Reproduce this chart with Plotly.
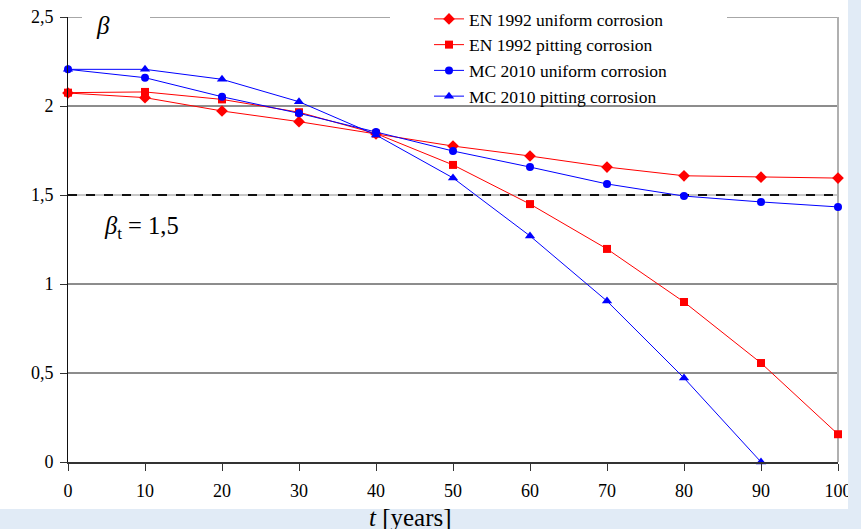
import plotly.graph_objects as go

years = [0, 10, 20, 30, 40, 50, 60, 70, 80, 90, 100]
en_uniform = [2.073, 2.047, 1.972, 1.912, 1.843, 1.775, 1.719, 1.657, 1.608, 1.600, 1.595]
en_pitting = [2.075, 2.079, 2.037, 1.965, 1.845, 1.669, 1.449, 1.197, 0.899, 0.556, 0.156]
mc_uniform = [2.206, 2.159, 2.052, 1.959, 1.854, 1.747, 1.657, 1.562, 1.494, 1.461, 1.433]
mc_years_pit = [0, 10, 20, 30, 40, 50, 60, 70, 80, 90]
mc_pitting = [2.206, 2.206, 2.150, 2.024, 1.837, 1.596, 1.270, 0.904, 0.472, 0.0]

y_ticks = [0, 0.5, 1, 1.5, 2, 2.5]
y_ticktext = ["0", "0,5", "1", "1,5", "2", "2,5"]
x_ticks = [0, 10, 20, 30, 40, 50, 60, 70, 80, 90, 100]
beta_target = 1.5

RED = "#ff0000"
BLUE = "#0000ff"
FONT = "'Liberation Serif', Tinos, 'Times New Roman', 'DejaVu Serif', serif"

fig = go.Figure()
fig.add_trace(go.Scatter(x=years, y=en_uniform, name="EN 1992 uniform corrosion",
                         mode="lines+markers", line=dict(color=RED, width=1),
                         marker=dict(symbol="diamond", size=9, color=RED), cliponaxis=False))
fig.add_trace(go.Scatter(x=years, y=en_pitting, name="EN 1992 pitting corrosion",
                         mode="lines+markers", line=dict(color=RED, width=1),
                         marker=dict(symbol="square", size=8, color=RED), cliponaxis=False))
fig.add_trace(go.Scatter(x=years, y=mc_uniform, name="MC 2010 uniform corrosion",
                         mode="lines+markers", line=dict(color=BLUE, width=1),
                         marker=dict(symbol="circle", size=8, color=BLUE), cliponaxis=False))
fig.add_trace(go.Scatter(x=mc_years_pit, y=mc_pitting, name="MC 2010 pitting corrosion",
                         mode="lines+markers", line=dict(color=BLUE, width=1),
                         marker=dict(symbol="triangle-up", size=9, color=BLUE), cliponaxis=False))

shapes = []
# page background: light blue bands right and bottom
shapes.append(dict(type="rect", xref="paper", yref="paper", x0=(848 - 68) / 770, x1=(870 - 68) / 770,
                   y0=-0.3, y1=1.2, fillcolor="#e1ebf6", line=dict(width=0), layer="above"))
shapes.append(dict(type="rect", xref="paper", yref="paper", x0=-0.2, x1=(848 - 68) / 770,
                   y0=(462 - 540) / 445, y1=(462 - 509) / 445, fillcolor="#e1ebf6",
                   line=dict(width=0), layer="below"))
# gridlines
for v in [0.5, 1, 2]:
    shapes.append(dict(type="line", xref="paper", yref="y", x0=0, x1=1, y0=v, y1=v,
                       line=dict(color="#1a1a1a", width=1), layer="below"))
shapes.append(dict(type="line", xref="paper", yref="y", x0=0, x1=1, y0=beta_target, y1=beta_target,
                   line=dict(color="#909090", width=1), layer="below"))
shapes.append(dict(type="line", xref="paper", yref="y", x0=0, x1=1, y0=beta_target, y1=beta_target,
                   line=dict(color="#111111", width=2, dash="dash"), layer="below"))
# top line at 2.5 broken by beta label and legend
for a, b in [(68, 82), (150, 390), (727, 838)]:
    shapes.append(dict(type="line", xref="paper", yref="y", x0=(a - 68) / 770, x1=(b - 68) / 770,
                       y0=2.5, y1=2.5, line=dict(color="#505050", width=1), layer="below"))
# right border
shapes.append(dict(type="line", xref="paper", yref="paper", x0=1, x1=1, y0=0, y1=1,
                   line=dict(color="#b0b0b0", width=2), layer="below"))

fig.update_layout(
    width=861, height=529,
    margin=dict(l=68, r=23, t=17, b=67, autoexpand=False),
    paper_bgcolor="white", plot_bgcolor="white",
    separators=", ",
    font=dict(family=FONT, size=18, color="black"),
    showlegend=True,
    legend=dict(x=(429 - 68) / 770, y=(462 - 114) / 445, xanchor="left", yanchor="bottom",
                bgcolor="rgba(0,0,0,0)", font=dict(family=FONT, size=17.5),
                tracegroupgap=0, itemwidth=30),
    xaxis=dict(range=[0, 100], tickvals=x_ticks, showgrid=False, zeroline=False,
               showline=True, linecolor="#333333", linewidth=2,
               ticks="outside", ticklen=7, tickcolor="#333333", tickwidth=1,
               ticklabelstandoff=4,
               tickfont=dict(family=FONT, size=18), fixedrange=True),
    yaxis=dict(range=[0, 2.5], tickvals=y_ticks, ticktext=y_ticktext, showgrid=False,
               zeroline=False, showline=True, linecolor="#111111", linewidth=1,
               ticks="outside", ticklen=7, tickcolor="#333333",
               ticklabelstandoff=3,
               tickfont=dict(family=FONT, size=18), fixedrange=True),
    shapes=shapes,
    annotations=[
        dict(text="<i>β</i>", xref="paper", yref="paper", x=(103 - 68) / 770, y=(462 - 26) / 445,
             showarrow=False, font=dict(family=FONT, size=25), xanchor="center", yanchor="middle"),
        dict(text="<i>β</i><sub>t</sub> = 1,5", xref="paper", yref="paper",
             x=(102 - 68) / 770, y=(462 - 227) / 445, showarrow=False,
             font=dict(family=FONT, size=24.5), xanchor="left", yanchor="middle"),
        dict(text="<i>t</i> [years]", xref="paper", yref="paper",
             x=(410 - 68) / 770, y=(462 - 517) / 445, showarrow=False,
             font=dict(family=FONT, size=25), xanchor="center", yanchor="middle"),
    ],
)

fig.write_html("out.html", config={"displayModeBar": False},
               post_script="document.body.style.margin='0';document.body.style.overflow='hidden';")
